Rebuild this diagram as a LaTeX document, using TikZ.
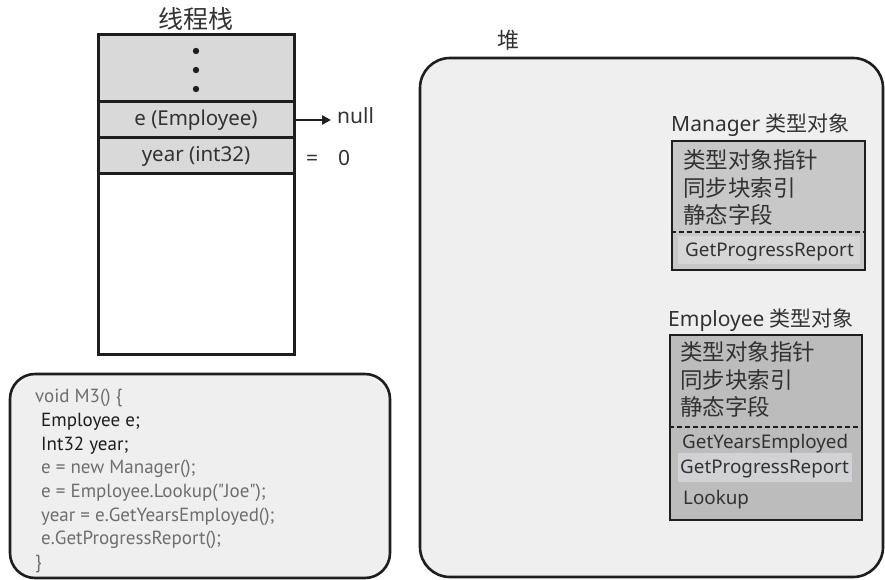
\documentclass[tikz,border=0pt]{standalone}
\usepackage{fontspec}
\setmainfont{Noto Sans}
\newfontfamily\cjk{Noto Sans CJK SC}
\newfontfamily\codefont{PT Sans}
\usetikzlibrary{arrows.meta,positioning}
\definecolor{ink}{RGB}{30,30,30}
\definecolor{txt}{RGB}{50,50,50}
\definecolor{codegray}{RGB}{110,110,110}
\definecolor{slotfill}{RGB}{217,217,217}
\definecolor{heapfill}{RGB}{239,239,239}
\definecolor{mgrfill}{RGB}{200,200,200}
\definecolor{mgrhl}{RGB}{214,214,214}
\definecolor{empfill}{RGB}{188,188,188}
\definecolor{emphl}{RGB}{208,210,214}
\tikzset{
  slot/.style={draw=ink,line width=3pt,fill=slotfill,minimum width=196pt,
    inner sep=0pt,font=\fontsize{20.5}{24}\selectfont,text=txt},
  frame/.style={draw=ink,line width=3pt,fill=white,minimum width=196pt,inner sep=0pt},
  area/.style={draw=ink,line width=2.6pt,fill=heapfill,inner sep=0pt},
  tobj/.style={draw=ink,line width=2.6pt,inner sep=0pt,minimum width=193pt},
  lbl/.style={inner sep=0pt,text=txt,font=\fontsize{21}{24}\selectfont},
  field/.style={inner sep=0pt,text=txt,align=left,font=\fontsize{22.5}{27.5}\selectfont\cjk},
  meth/.style={inner sep=0pt,text=txt,font=\fontsize{18.8}{22}\selectfont},
  sep/.style={ink,line width=2pt,dash pattern=on 5pt off 3pt},
  ptr/.style={-{Triangle[length=9pt,width=9pt]},line width=2.4pt,ink},
}
\begin{document}
\begin{tikzpicture}[x=1pt,y=-1pt]
  \useasboundingbox (0,0) rectangle (885,580);

  % thread stack
  \node[font=\fontsize{25}{28}\selectfont\cjk,text=txt] (stacktitle) at (196,19) {线程栈};
  \node[frame,minimum height=319pt] (stack) at (196,194.5) {};
  \node[slot,minimum height=67pt] (dots) at (196,68.5) {};
  \foreach \y in {51,70,89}
    \fill[ink] (196,\y) circle (3.2);
  \node[slot,minimum height=36pt] (erow) at (196,120) {e (Employee)};
  \node[slot,minimum height=36pt] (yrow) at (196,156) {year (int32)};
  \node[lbl,anchor=west] (null) at (337,116) {null};
  \node[lbl,anchor=west] (zero) at (306,158) {=\hspace{20pt}0};
  \draw[ptr,shorten >=6pt] (erow.east) -- (erow.east -| null.west);

  % source of M3
  \node[area,rounded corners=25pt,minimum width=380pt,minimum height=204pt] (code) at (200,476) {};
  \node[anchor=north west,inner sep=0pt,align=left,text=codegray,
    font=\fontsize{19}{23.7}\selectfont\codefont] (src) at (35,389) {%
    void M3()\ \{\\
    \hspace*{6pt}\textcolor{ink}{Employee e;}\\
    \hspace*{6pt}\textcolor{ink}{Int32 year;}\\
    \hspace*{6pt}e = new Manager();\\
    \hspace*{6pt}e = Employee.Lookup("Joe");\\
    \hspace*{6pt}year = e.GetYearsEmployed();\\
    \hspace*{6pt}e.GetProgressReport();\\
    \}};

  % heap
  \node[font=\fontsize{22}{24}\selectfont\cjk,text=txt] (heaptitle) at (508,40) {堆};
  \node[area,rounded corners=30pt,minimum width=463pt,minimum height=519pt] (heap) at (651.5,317.5) {};

  % Manager type object
  \node[lbl,anchor=west] (mgrlbl) at (671,125) {Manager {\cjk 类型对象}};
  \node[tobj,fill=mgrfill,minimum height=129pt] (mgr) at (768.5,205.5) {};
  \fill[mgrhl] (678,236) rectangle (860,264);
  \node[field,anchor=north west] (mgrfields) at (683,149.5) {类型对象指针\\同步块索引\\静态字段};
  \draw[sep] (mgr.west |- 0,232) -- (mgr.east |- 0,232);
  \node[meth,anchor=west] (mgrgpr) at (685,252) {GetProgressReport};

  % Employee type object
  \node[lbl,anchor=west] (emplbl) at (668,320) {Employee {\cjk 类型对象}};
  \node[tobj,fill=empfill,minimum height=185pt,minimum width=192pt] (emp) at (766,427.5) {};
  \fill[emphl] (678,453) rectangle (852,482);
  \node[field,anchor=north west] (empfields) at (680,341.5) {类型对象指针\\同步块索引\\静态字段};
  \draw[sep] (emp.west |- 0,427) -- (emp.east |- 0,427);
  \node[meth,anchor=west] (empgye) at (682,443.5) {GetYearsEmployed};
  \node[meth,anchor=west] (empgpr) at (680,469) {GetProgressReport};
  \node[meth,anchor=west] (emplookup) at (683,499.5) {Lookup};
\end{tikzpicture}
\end{document}
